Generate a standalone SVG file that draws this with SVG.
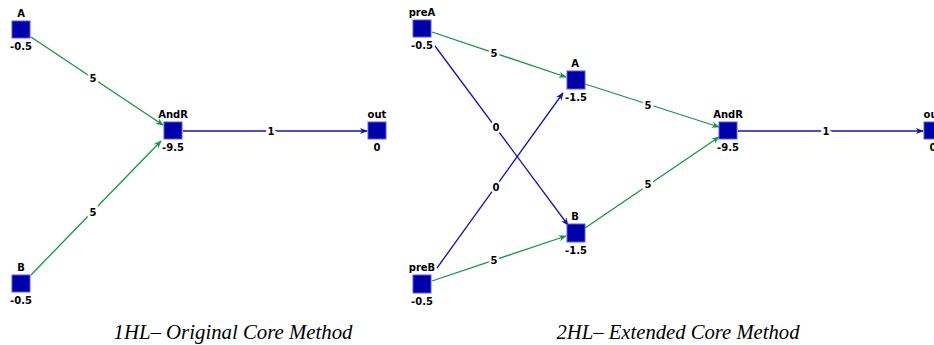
<svg xmlns="http://www.w3.org/2000/svg" width="934" height="345" viewBox="0 0 934 345">
<style>
.n rect{fill:#0000aa;stroke:#5a5ae0;stroke-width:1}
.t{font-family:"DejaVu Sans",sans-serif;font-size:10px;font-weight:bold;fill:#000;text-anchor:middle}
.g{stroke:#119944;stroke-width:1.3;fill:none}
.b{stroke:#1111bb;stroke-width:1.3;fill:none}
.el{font-family:"DejaVu Sans",sans-serif;font-size:10px;font-weight:bold;fill:#000;text-anchor:middle;stroke:#fff;stroke-width:5;paint-order:stroke;dominant-baseline:central}
.cap{font-family:"Liberation Serif",serif;font-style:italic;font-size:21px;fill:#000;text-anchor:middle}
</style>
<defs>
<marker id="ag" viewBox="0 0 10 10" refX="9" refY="5" markerWidth="8" markerHeight="8" markerUnits="userSpaceOnUse" orient="auto"><path d="M0,1 L10,5 L0,9 L3,5 Z" fill="#119944"/></marker>
<marker id="ab" viewBox="0 0 10 10" refX="9" refY="5" markerWidth="8" markerHeight="8" markerUnits="userSpaceOnUse" orient="auto"><path d="M0,1 L10,5 L0,9 L3,5 Z" fill="#1111bb"/></marker>
</defs>
<g id="connectors">
<line class="g" x1="31" y1="37" x2="163" y2="125" marker-end="url(#ag)"/>
<line class="g" x1="31" y1="275" x2="161" y2="141" marker-end="url(#ag)"/>
<line class="b" x1="183" y1="131" x2="367" y2="131" marker-end="url(#ab)"/>
<line class="g" x1="432" y1="32" x2="566" y2="77" marker-end="url(#ag)"/>
<line class="g" x1="585" y1="84" x2="719" y2="127" marker-end="url(#ag)"/>
<line class="b" x1="738" y1="131" x2="923" y2="131" marker-end="url(#ab)"/>
<line class="g" x1="432" y1="281" x2="566" y2="236" marker-end="url(#ag)"/>
<line class="g" x1="585" y1="228" x2="719" y2="137" marker-end="url(#ag)"/>
<line class="b" x1="435" y1="46" x2="568" y2="225" marker-end="url(#ab)"/>
<line class="b" x1="437" y1="268" x2="563" y2="93" marker-end="url(#ab)"/>
<text class="el" x="93" y="78">5</text>
<text class="el" x="93" y="212">5</text>
<text class="el" x="271" y="131">1</text>
<text class="el" x="494" y="53">5</text>
<text class="el" x="648" y="105">5</text>
<text class="el" x="826" y="131">1</text>
<text class="el" x="494" y="260">5</text>
<text class="el" x="648" y="184">5</text>
<text class="el" x="496" y="127">0</text>
<text class="el" x="496" y="187">0</text>
</g>
<g id="L_A" class="n"><rect x="12" y="21" width="18" height="17"/><text class="t" x="21" y="17">A</text><text class="t" x="21" y="50">-0.5</text></g>
<g id="L_B" class="n"><rect x="12" y="275" width="18" height="17"/><text class="t" x="21" y="271">B</text><text class="t" x="21" y="304">-0.5</text></g>
<g id="L_AndR" class="n"><rect x="164" y="122" width="18" height="17"/><text class="t" x="173" y="118">AndR</text><text class="t" x="173" y="151">-9.5</text></g>
<g id="L_out" class="n"><rect x="368" y="122" width="18" height="17"/><text class="t" x="377" y="118">out</text><text class="t" x="377" y="151">0</text></g>
<g id="R_preA" class="n"><rect x="413" y="20" width="18" height="17"/><text class="t" x="422" y="16">preA</text><text class="t" x="422" y="49">-0.5</text></g>
<g id="R_A" class="n"><rect x="567" y="71" width="18" height="18"/><text class="t" x="575" y="67">A</text><text class="t" x="576" y="101">-1.5</text></g>
<g id="R_B" class="n"><rect x="567" y="224" width="18" height="18"/><text class="t" x="575" y="220">B</text><text class="t" x="576" y="254">-1.5</text></g>
<g id="R_preB" class="n"><rect x="413" y="275" width="18" height="18"/><text class="t" x="422" y="271">preB</text><text class="t" x="422" y="305">-0.5</text></g>
<g id="R_AndR" class="n"><rect x="719" y="122" width="18" height="17"/><text class="t" x="728" y="118">AndR</text><text class="t" x="728" y="151">-9.5</text></g>
<g id="R_out" class="n"><rect x="924" y="122" width="18" height="17"/><text class="t" x="933" y="118">out</text><text class="t" x="933" y="151">0</text></g>
<text class="cap" x="233" y="339" textLength="239" lengthAdjust="spacingAndGlyphs">1HL– Original Core Method</text>
<text class="cap" x="678" y="339" textLength="243" lengthAdjust="spacingAndGlyphs">2HL– Extended Core Method</text>
</svg>
